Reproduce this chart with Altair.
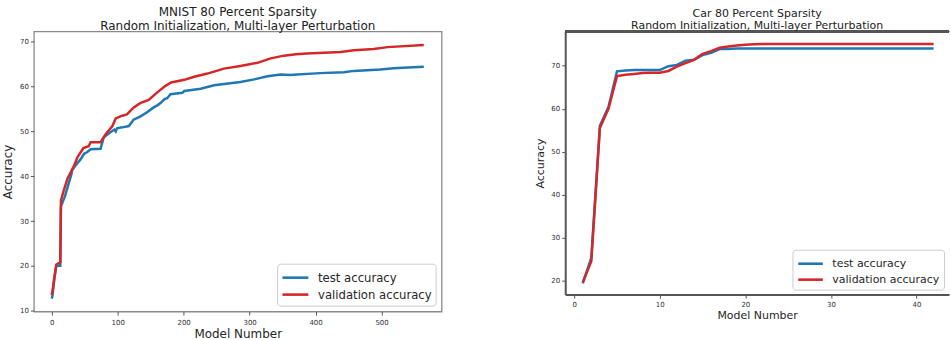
import altair as alt
import pandas as pd

# ---------------- data ----------------
series_names = ["test accuracy", "validation accuracy"]

mnist_test_x = [0, 1, 4, 7, 13, 14, 16, 20, 24, 26, 30, 31, 36, 44, 49, 54, 59, 74, 79, 89,
                95, 97, 99, 107, 117, 124, 134, 144, 154, 160, 165, 171, 175, 180, 198, 201, 226, 246, 286, 307,
                327, 347, 362, 372, 407, 443, 458, 498, 518, 548, 564]
mnist_test_y = [12.7, 13.2, 17.0, 20.0, 20.0, 33.3, 34.0, 35.5, 37.5, 38.5, 40.5, 41.4, 42.4, 43.8, 45.0, 45.4, 46.0, 46.1, 48.7, 49.8,
                50.4, 50.0, 50.7, 50.9, 51.2, 52.6, 53.3, 54.2, 55.3, 55.8, 56.3, 57.2, 57.4, 58.3, 58.6, 59.0, 59.5, 60.3, 61.0, 61.6,
                62.3, 62.7, 62.6, 62.7, 63.0, 63.2, 63.5, 63.8, 64.1, 64.3, 64.4]

mnist_val_x = [0, 1, 4, 7, 13, 14, 19, 24, 29, 34, 39, 48, 56, 59, 74, 82, 92, 97, 107, 114,
               124, 134, 147, 160, 172, 181, 201, 216, 236, 261, 286, 312, 332, 352, 370, 387, 438, 458, 488, 509,
               564]
mnist_val_y = [13.5, 14.2, 17.5, 20.3, 20.8, 34.6, 37.2, 39.5, 40.9, 42.4, 44.2, 46.3, 46.7, 47.6, 47.6, 49.4, 51.2, 52.9, 53.5, 53.8,
               55.3, 56.3, 57.0, 58.7, 60.1, 60.9, 61.5, 62.2, 62.9, 64.0, 64.6, 65.3, 66.3, 66.9, 67.2, 67.4, 67.7, 68.1, 68.4, 68.8,
               69.3]

car_models = [1, 2, 3, 4, 5, 6, 7, 8, 9, 10, 11, 12, 13, 14, 15, 16, 17, 18, 19, 20, 21,
              22, 23, 24, 25, 26, 27, 28, 29, 30, 31, 32, 33, 34, 35, 36, 37, 38, 39, 40, 41, 42]
car_test = [19.3, 25.3, 56.0, 60.4, 68.7, 68.9, 69.0, 69.0, 69.0, 69.0, 69.9, 70.2, 71.2, 71.4, 72.5, 73.0, 73.9, 73.9, 74.0, 74.0, 74.0,
            74.0, 74.0, 74.0, 74.0, 74.0, 74.0, 74.0, 74.0, 74.0, 74.0, 74.0, 74.0, 74.0, 74.0, 74.0, 74.0, 74.0, 74.0, 74.0, 74.0, 74.0]
car_val = [19.6, 24.5, 55.5, 60.0, 67.6, 67.9, 68.1, 68.3, 68.4, 68.4, 68.8, 69.8, 70.6, 71.4, 72.8, 73.4, 74.2, 74.5, 74.7, 74.9, 75.0,
           75.1, 75.1, 75.1, 75.1, 75.1, 75.1, 75.1, 75.1, 75.1, 75.1, 75.1, 75.1, 75.1, 75.1, 75.1, 75.1, 75.1, 75.1, 75.1, 75.1, 75.1]

mnist_ticks_x = [0, 100, 200, 300, 400, 500]
mnist_ticks_y = [10, 20, 30, 40, 50, 60, 70]
car_ticks_x = [0, 10, 20, 30, 40]
car_ticks_y = [20, 30, 40, 50, 60, 70]

mnist_df = pd.concat([
    pd.DataFrame({"model": mnist_test_x, "acc": mnist_test_y, "series": series_names[0]}),
    pd.DataFrame({"model": mnist_val_x, "acc": mnist_val_y, "series": series_names[1]}),
], ignore_index=True)
car_df = pd.concat([
    pd.DataFrame({"model": car_models, "acc": car_test, "series": series_names[0]}),
    pd.DataFrame({"model": car_models, "acc": car_val, "series": series_names[1]}),
], ignore_index=True)

# ---------------- style ----------------
FONT = "DejaVu Sans"
BLUE = "#1f77b4"
RED = "#d62728"
TXT = "#262626"


def color_enc(fs, offset, size, lab_off):
    return alt.Color(
        "series:N",
        scale=alt.Scale(domain=series_names, range=[BLUE, RED]),
        legend=alt.Legend(
            title=None, orient="bottom-right", offset=offset,
            symbolType="M-1,0L2,0", symbolSize=size, symbolStrokeWidth=2.6,
            labelFontSize=fs, labelFont=FONT, labelColor=TXT, labelOffset=lab_off,
            labelLimit=400, rowPadding=0, padding=4,
            strokeColor="#cccccc", fillColor="white", cornerRadius=3,
        ),
    )


def axis(vals, title, lfs, tfs, tpad, lpad=2, domain=False):
    kw = dict(values=vals, title=title, grid=False, labelFont=FONT, labelFontSize=lfs,
              labelColor="#333333", tickColor="#555555", tickSize=3.5, tickWidth=1,
              labelPadding=lpad, titleFont=FONT, titleFontSize=tfs, titleFontWeight="normal",
              titleColor=TXT, titlePadding=tpad, domain=domain)
    if domain:
        kw.update(domainColor="#555555", domainWidth=2)
    return alt.Axis(**kw)


# ---------------- MNIST panel ----------------
left = alt.Chart(mnist_df).mark_line(strokeWidth=2.5, clip=True).encode(
    x=alt.X("model:Q", scale=alt.Scale(domain=[-27, 591], nice=False, zero=False),
            axis=axis(mnist_ticks_x, "Model Number", 7, 12, 4, lpad=3)),
    y=alt.Y("acc:Q", scale=alt.Scale(domain=[9.8, 72.3], nice=False, zero=False),
            axis=axis(mnist_ticks_y, "Accuracy", 7, 12, 5)),
    color=color_enc(11.7, 6, 300, 17),
).properties(
    width=409, height=281,
    view=alt.ViewBackground(stroke="#8a8a8a", strokeWidth=1.3),
    title=alt.TitleParams(["MNIST 80 Percent Sparsity", "Random Initialization, Multi-layer Perturbation"],
                          font=FONT, fontSize=12, fontWeight="normal", color="#222222",
                          anchor="middle", frame="group", lineHeight=14, offset=-2),
)

# ---------------- Car panel ----------------
car_lines = alt.Chart(car_df).mark_line(strokeWidth=2.5, clip=True).encode(
    x=alt.X("model:Q", scale=alt.Scale(domain=[-1.05, 43.8], nice=False, zero=False),
            axis=axis(car_ticks_x, "Model Number", 7, 11, 2, domain=True)),
    y=alt.Y("acc:Q", scale=alt.Scale(domain=[16.7, 78], nice=False, zero=False),
            axis=axis(car_ticks_y, "Accuracy", 7, 11, 5, domain=True)),
    color=color_enc(11, 5, 270, 16),
)
top_spine = alt.Chart(car_df).mark_rule(color="#555555", strokeWidth=1.5).encode(
    x=alt.value(0), x2=alt.value(385), y=alt.value(0)
)
right = alt.layer(car_lines, top_spine).properties(
    width=385, height=264,
    view=alt.ViewBackground(stroke="transparent"),
    title=alt.TitleParams(["Car 80 Percent Sparsity", "Random Initialization, Multi-layer Perturbation"],
                          font=FONT, fontSize=11, fontWeight="normal", color="#222222",
                          anchor="middle", frame="group", lineHeight=12, offset=0),
)

chart = alt.hconcat(left, right, spacing=92).resolve_scale(color="independent").resolve_legend(
    color="independent"
).configure(
    padding={"left": 0, "top": 5, "right": 0, "bottom": 0},
    background="white",
)

chart.save("out.html", embed_options={"renderer": "svg", "actions": False})
